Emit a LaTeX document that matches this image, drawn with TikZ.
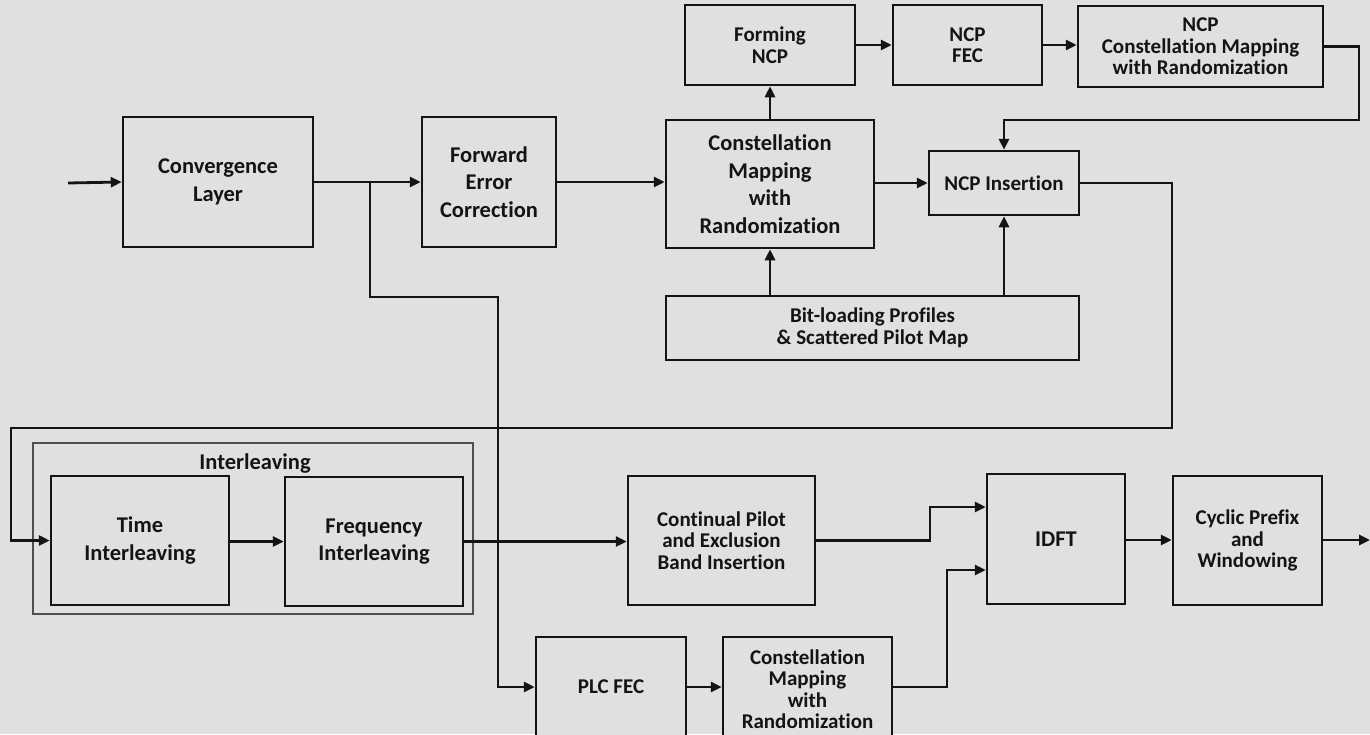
\documentclass[tikz,border=0pt]{standalone}
\usepackage{fontspec}
\setmainfont[Ligatures={NoCommon}]{Carlito}
\usetikzlibrary{arrows.meta}
\definecolor{bg}{RGB}{224,224,224}
\definecolor{ink}{RGB}{20,20,20}
\begin{document}
\begin{tikzpicture}[x=1pt,y=-1pt,
  blk/.style={draw=ink, line width=2.5pt, fill=bg, align=center, inner sep=0pt,
    font=\fontsize{22.5}{27.5}\selectfont\bfseries, text=ink},
  tight/.style={font=\fontsize{21}{21.5}\selectfont\bfseries},
  wire/.style={draw=ink, line width=2.8pt},
  arr/.style={wire, -{Triangle[length=11pt,width=10pt]}},
  grp/.style={draw=ink!75, line width=1.8pt}
]
\useasboundingbox (0,0) rectangle (1370,734);
\fill[bg] (0,0) rectangle (1370,734);
\clip (0,0) rectangle (1370,734);

% upper processing chain
\node[blk, minimum width=190, minimum height=130] (conv) at (218,182) {Convergence\\Layer};
\node[blk, minimum width=134, minimum height=130] (fec) at (489,182) {Forward\\Error\\Correction};
\node[blk, minimum width=208, minimum height=128] (cm1) at (770,184) {Constellation\\Mapping\\with\\Randomization};
\node[blk, tight, minimum width=170, minimum height=80] (form) at (770,45) {Forming\\NCP};
\node[blk, tight, minimum width=149, minimum height=80] (ncpfec) at (967.5,45) {NCP\\FEC};
\node[blk, tight, minimum width=245, minimum height=81] (ncpcm) at (1200.5,46.5) {NCP\\Constellation Mapping\\with Randomization};
\node[blk, tight, minimum width=150, minimum height=64] (ncpins) at (1004,183) {NCP Insertion};
\node[blk, tight, minimum width=413, minimum height=64] (bitl) at (872.5,328) {Bit-loading Profiles\\\& Scattered Pilot Map};

% interleaving group
\draw[grp] (33,443) rectangle (473,614);
\node[font=\fontsize{22.5}{24}\selectfont\bfseries, text=ink] (ilvlab) at (255,464) {Interleaving};
\node[blk, minimum width=178, minimum height=129] (time) at (140,540.5) {Time\\Interleaving};
\node[blk, minimum width=178, minimum height=129] (freq) at (374,541.5) {Frequency\\Interleaving};

% lower processing chain
\node[blk, tight, minimum width=187, minimum height=129] (cont) at (721.5,540.5) {Continual Pilot\\and Exclusion\\Band Insertion};
\node[blk, minimum width=138, minimum height=130] (idft) at (1056,539) {IDFT};
\node[blk, tight, minimum width=149, minimum height=129] (cyc) at (1247.5,540.5) {Cyclic Prefix\\and\\Windowing};
\node[blk, tight, minimum width=150, minimum height=100] (plc) at (611,687) {PLC FEC};
\node[blk, tight, minimum width=169, minimum height=104] (cm2) at (807.5,689) {Constellation\\Mapping\\with\\Randomization};

% route points
\coordinate (in) at (68,183);
\coordinate (br) at (370,183);
\coordinate (brdown) at (498,297);
\coordinate (k1) at (1359,120);
\coordinate (k2) at (1172,428);
\coordinate (k3) at (11,428);
\coordinate (k4) at (930,507);
\coordinate (k5) at (947,570);
\coordinate (out) at (1370,540);

% connectors
\draw[arr] (in) -- (conv.west);
\draw[arr] (conv.east) -- (fec.west);
\draw[arr] (br) |- (brdown) |- (plc.west);
\draw[arr] (fec.west -| fec.east) -- (cm1.west |- fec.east);
\draw[arr] (cm1.east |- ncpins.west) -- (ncpins.west);
\draw[arr] (cm1.north) -- (form.south);
\draw[arr] (form.east) -- (ncpfec.west);
\draw[arr] (ncpfec.east) -- (ncpfec.east -| ncpcm.west);
\draw[arr] (ncpcm.east) -| (k1) -| (ncpins.north);
\draw[arr] (bitl.north -| cm1.south) -- (cm1.south);
\draw[arr] (bitl.north -| ncpins.south) -- (ncpins.south);
\draw[arr] (ncpins.east) -| (k2) -- (k3) |- (time.west);
\draw[arr] (time.east |- freq.west) -- (freq.west);
\draw[arr] (freq.east) -- (cont.west |- freq.east);
\draw[arr] (cont.east) -| (k4) -- (k4 -| idft.west);
\draw[arr] (plc.east) -- (cm2.west |- plc.east);
\draw[arr] (cm2.east |- plc.east) -| (k5) -- (k5 -| idft.west);
\draw[arr] (idft.east |- out) -- (cyc.west |- out);
\draw[arr] (cyc.east |- out) -- (out);
\end{tikzpicture}
\end{document}
